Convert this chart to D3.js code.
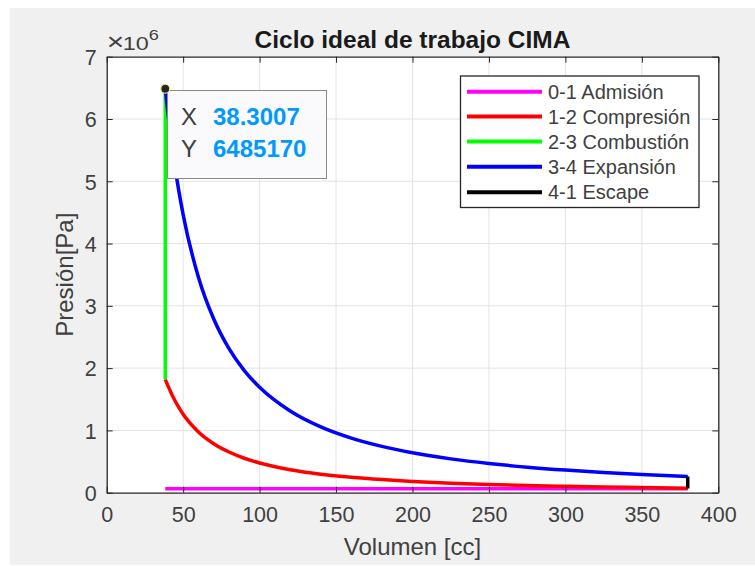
<!DOCTYPE html>
<html><head><meta charset="utf-8">
<script src="https://cdn.jsdelivr.net/npm/d3@7"></script>
<style>
html,body{margin:0;padding:0;background:#fff;}
svg{display:block;font-family:"Liberation Sans",Arial,Helvetica,sans-serif;}
</style></head>
<body><svg id="c" width="755" height="566"></svg>
<script>
// ---- data (pressure in ×10^6 Pa, volume in cc) ----
const xTicks = [0, 50, 100, 150, 200, 250, 300, 350, 400];
const yTicks = [0, 1, 2, 3, 4, 5, 6, 7];
const volumes = [38.3, 40, 45, 50, 60, 70, 80, 90, 100, 120, 140, 160, 180, 200, 225, 250, 275, 300, 325, 350, 380];
const compression = [1.82, 1.72, 1.46, 1.26, 0.976, 0.787, 0.653, 0.553, 0.477, 0.370, 0.298, 0.247, 0.210, 0.181, 0.153, 0.132, 0.116, 0.1025, 0.0917, 0.0827, 0.072];
const expansion = [6.485, 6.10, 5.175, 4.464, 3.459, 2.788, 2.313, 1.960, 1.692, 1.311, 1.056, 0.876, 0.743, 0.641, 0.543, 0.469, 0.410, 0.363, 0.325, 0.293, 0.261];
const admissionV = [38.3, 380];
const admissionP = [0.065, 0.065];
const combustionV = [38.3, 38.3];
const combustionP = [1.82, 6.485];
const exhaustV = [380, 380];
const exhaustP = [0.261, 0.068];
const seriesNames = ["0-1 Admisión", "1-2 Compresión", "2-3 Combustión", "3-4 Expansión", "4-1 Escape"];
const seriesColors = ["#ff00ff", "#ff0000", "#00ff00", "#0000ff", "#000000"];
const tipX = 38.3007, tipY = 6485170;

(function () {
const svg = d3.select("#c");
const L = 106.7, R = 718.3, T = 56.7, B = 492.7;
const x = d3.scaleLinear().domain([0, 400]).range([L, R]);
const y = d3.scaleLinear().domain([0, 7]).range([B, T]);
const axisCol = "#262626", textCol = "#404040";

// figure background
svg.append("rect").attr("x", 10).attr("y", 8).attr("width", 745).attr("height", 557).attr("fill", "#f0f0f0");
svg.append("rect").attr("x", L).attr("y", T).attr("width", R - L).attr("height", B - T).attr("fill", "#fff");

// grid
const grid = svg.append("g");
grid.selectAll("line.gx").data(xTicks.slice(1, -1)).enter().append("line")
  .attr("x1", d => x(d)).attr("x2", d => x(d)).attr("y1", T).attr("y2", B)
  .attr("stroke", "#e3e3e3").attr("stroke-width", 1);
grid.selectAll("line.gy").data(yTicks.slice(1, -1)).enter().append("line")
  .attr("y1", d => y(d)).attr("y2", d => y(d)).attr("x1", L).attr("x2", R)
  .attr("stroke", "#e3e3e3").attr("stroke-width", 1);

// series
const pts = (vs, ps) => vs.map((v, i) => [v, ps[i]]);
const line = d3.line().x(d => x(d[0])).y(d => y(d[1])).curve(d3.curveMonotoneX);
const lineStraight = d3.line().x(d => x(d[0])).y(d => y(d[1]));
const seriesData = [
  {d: pts(admissionV, admissionP), g: lineStraight},
  {d: pts(volumes, compression), g: line},
  {d: pts(combustionV, combustionP), g: lineStraight},
  {d: pts(volumes, expansion), g: line},
  {d: pts(exhaustV, exhaustP), g: lineStraight}
];
seriesData.forEach((s, i) => {
  svg.append("path").attr("d", s.g(s.d)).attr("fill", "none")
    .attr("stroke", seriesColors[i]).attr("stroke-width", 3.5)
    .attr("stroke-linejoin", "round");
});

// axes (inward ticks, box)
const fmt = d3.format("d");
const ax = svg.append("g");
const gBottom = ax.append("g").attr("transform", `translate(0,${B})`)
  .call(d3.axisBottom(x).tickValues(xTicks).tickSizeInner(-6).tickSizeOuter(0).tickPadding(14).tickFormat(fmt));
const gLeft = ax.append("g").attr("transform", `translate(${L},0)`)
  .call(d3.axisLeft(y).tickValues(yTicks).tickSizeInner(-6).tickSizeOuter(0).tickPadding(10).tickFormat(fmt));
const gTop = ax.append("g").attr("transform", `translate(0,${T})`)
  .call(d3.axisTop(x).tickValues(xTicks).tickSizeInner(-6).tickSizeOuter(0).tickFormat(""));
const gRight = ax.append("g").attr("transform", `translate(${R},0)`)
  .call(d3.axisRight(y).tickValues(yTicks).tickSizeInner(-6).tickSizeOuter(0).tickFormat(""));
[gBottom, gLeft, gTop, gRight].forEach(g => {
  g.select(".domain").attr("stroke", axisCol).attr("stroke-width", 1.3);
  g.selectAll(".tick line").attr("stroke", axisCol).attr("stroke-width", 1);
  g.selectAll(".tick text").attr("fill", textCol).attr("font-size", 21.5)
    .attr("font-family", "'Liberation Sans',Arial,sans-serif");
});
gBottom.selectAll(".tick text").attr("dy", "0.71em");
gLeft.selectAll(".tick text").attr("dy", "0.36em");

// exponent label
const ex = svg.append("text").attr("transform", "translate(108,50) scale(1.3,1)")
  .attr("fill", textCol).attr("font-size", 18);
ex.append("tspan").attr("font-size", 23).attr("dx", -1).text("×");
ex.append("tspan").attr("dx", -1).text("10");
ex.append("tspan").attr("font-size", 14).attr("dy", -10).text("6");

// title & labels
svg.append("text").attr("x", (L + R) / 2).attr("y", 47.5).attr("text-anchor", "middle")
  .attr("font-size", 24.5).attr("font-weight", "bold").attr("fill", "#1a1a1a")
  .text("Ciclo ideal de trabajo CIMA");
svg.append("text").attr("x", (L + R) / 2).attr("y", 555).attr("text-anchor", "middle")
  .attr("font-size", 24).attr("fill", textCol).text("Volumen [cc]");
svg.append("text").attr("transform", `translate(73,${(T + B) / 2}) rotate(-90)`).attr("text-anchor", "middle")
  .attr("font-size", 24).attr("fill", textCol).text("Presión[Pa]");

// legend
const lg = svg.append("g");
lg.append("rect").attr("x", 460.5).attr("y", 76).attr("width", 238.5).attr("height", 131.5)
  .attr("fill", "#fff").attr("stroke", axisCol).attr("stroke-width", 1.3);
const rowY = [91.7, 116.5, 141.5, 166.7, 192.2];
seriesNames.forEach((n, i) => {
  lg.append("line").attr("x1", 467).attr("x2", 542).attr("y1", rowY[i]).attr("y2", rowY[i])
    .attr("stroke", seriesColors[i]).attr("stroke-width", 4);
  lg.append("text").attr("x", 548).attr("y", rowY[i]).attr("dy", "0.36em")
    .attr("font-size", 20).attr("fill", textCol).text(n);
});

// data tip
const mx = x(tipX), my = y(tipY / 1e6);
const tip = svg.append("g");
tip.append("rect").attr("x", 167.5).attr("y", 90.5).attr("width", 159).attr("height", 88)
  .attr("fill", "#fafafc").attr("stroke", "#8a8a8a").attr("stroke-width", 1);
tip.append("text").attr("x", 181).attr("y", 125).attr("font-size", 24).attr("fill", "#404040").text("X");
tip.append("text").attr("x", 181).attr("y", 156.5).attr("font-size", 24).attr("fill", "#404040").text("Y");
tip.append("text").attr("x", 213).attr("y", 125).attr("font-size", 24).attr("font-weight", "bold").attr("fill", "#0099ff").text(String(tipX));
tip.append("text").attr("x", 213).attr("y", 156.5).attr("font-size", 24).attr("font-weight", "bold").attr("fill", "#0099ff").text(String(tipY));
svg.append("circle").attr("cx", mx).attr("cy", my).attr("r", 4.5)
  .attr("fill", "#262626").attr("stroke", "#f5f0b0").attr("stroke-width", 1.2);
})();
</script></body></html>
